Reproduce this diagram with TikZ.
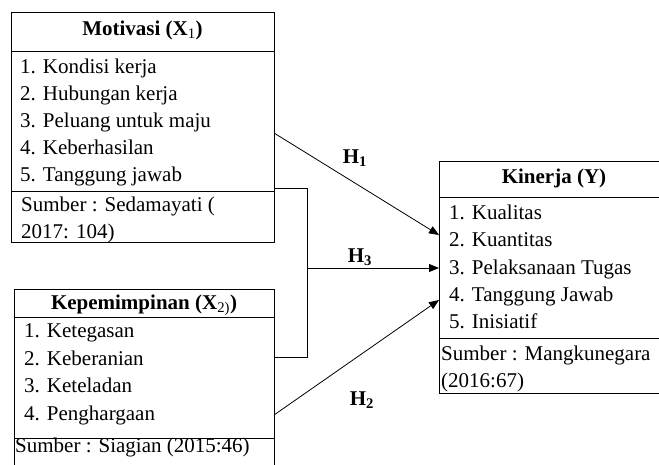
\documentclass[tikz,border=0pt]{standalone}
\usepackage{fontspec}
\setmainfont{Liberation Serif}
\usetikzlibrary{arrows.meta}
\begin{document}
\begin{tikzpicture}[x=1pt,y=-1pt,
  font=\fontsize{21}{25}\selectfont,
  boxshape/.style={draw,line width=0.8pt,rectangle,outer sep=0pt,inner sep=0pt,anchor=north west},
  sepline/.style={line width=0.8pt},
  itemtxt/.style={anchor=base west,inner sep=0pt},
  titletxt/.style={anchor=base,inner sep=0pt,font=\fontsize{21}{25}\selectfont\bfseries},
  hlabel/.style={inner sep=0pt,font=\fontsize{21}{25}\selectfont\bfseries},
  conn/.style={line width=0.8pt},
  arr/.style={line width=0.8pt,-{Triangle[length=10pt,width=8pt]}}]
\clip (0,0) rectangle (659,464);
% --- Box X1 ---
\node[boxshape,minimum width=263pt,minimum height=230pt] (x1) at (11,12) {};
\draw[sepline] (x1.west |- 0,51) -- (x1.east |- 0,51);
\draw[sepline] (x1.west |- 0,191) -- (x1.east |- 0,191);
\node[titletxt] (x1t) at (142.5,35) {Motivasi (X\textsubscript{\mdseries 1})};
\node[itemtxt] (x1a) at (20,73) {1. Kondisi kerja};
\node[itemtxt] (x1b) at (20,100.5) {2. Hubungan kerja};
\node[itemtxt] (x1c) at (20,127.5) {3. Peluang untuk maju};
\node[itemtxt] (x1d) at (20,154.5) {4. Keberhasilan};
\node[itemtxt] (x1e) at (20,181.5) {5. Tanggung jawab};
\node[itemtxt] (x1s) at (21,211.5) {Sumber : Sedamayati (};
\node[itemtxt] (x1u) at (21,238) {2017: 104)};
% --- Box X2 ---
\node[boxshape,minimum width=260pt,minimum height=200pt] (x2) at (14,289) {};
\draw[sepline] (x2.west |- 0,317) -- (x2.east |- 0,317);
\draw[sepline] (x2.west |- 0,438) -- (x2.east |- 0,438);
\node[titletxt] (x2t) at (144,309) {Kepemimpinan (X\textsubscript{\mdseries 2)})};
\node[itemtxt] (x2a) at (24,337) {1. Ketegasan};
\node[itemtxt] (x2b) at (24,365) {2. Keberanian};
\node[itemtxt] (x2c) at (24,392.5) {3. Keteladan};
\node[itemtxt] (x2d) at (24,420) {4. Penghargaan};
\node[itemtxt] (x2s) at (15,452) {Sumber : Siagian (2015:46)};
% --- Box Y ---
\node[boxshape,minimum width=230pt,minimum height=232pt] (y) at (439,161) {};
\draw[sepline] (y.west |- 0,197) -- (y.east |- 0,197);
\draw[sepline] (y.west |- 0,338) -- (y.east |- 0,338);
\node[titletxt] (yt) at (554,183) {Kinerja (Y)};
\node[itemtxt] (ya) at (449,219) {1. Kualitas};
\node[itemtxt] (yb) at (449,246.5) {2. Kuantitas};
\node[itemtxt] (yc) at (449,274) {3. Pelaksanaan Tugas};
\node[itemtxt] (yd) at (449,301.5) {4. Tanggung Jawab};
\node[itemtxt] (ye) at (449,328.5) {5. Inisiatif};
\node[itemtxt] (ys) at (441,360) {Sumber : Mangkunegara};
\node[itemtxt] (yu) at (441,387) {(2016:67)};
% --- Connectors ---
\coordinate (brk) at (307,268);
\draw[arr] (x1.east |- 0,133) -- (y.west |- 0,235);
\draw[conn] (x1.east |- 0,188) -- (brk |- 0,188) -- (brk |- 0,357) -- (x2.east |- 0,357);
\draw[arr] (brk) -- (y.west |- brk);
\draw[arr] (x2.east |- 0,415) -- (y.west |- 0,300);
% --- Labels ---
\node[hlabel] (h1) at (355,158) {H\textsubscript{1}};
\node[hlabel] (h3) at (360,257) {H\textsubscript{3}};
\node[hlabel] (h2) at (362,400) {H\textsubscript{2}};
\end{tikzpicture}
\end{document}
